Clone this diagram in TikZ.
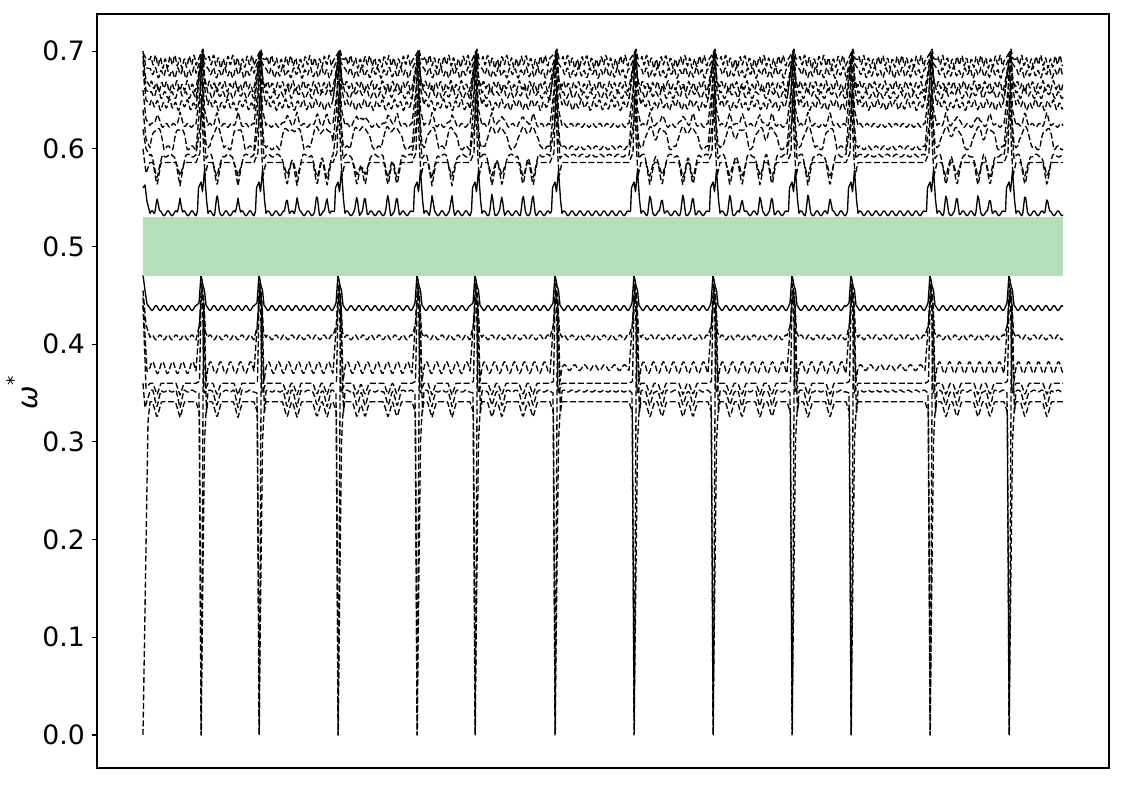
\documentclass[tikz,border=0pt]{standalone}
\usepackage{fontspec}
\setmainfont{DejaVu Sans}
\definecolor{bandgreen}{RGB}{179,223,187}
\tikzset{
  declare function={tri(\ta,\tb,\tc)=max(0,1-abs(\ta-\tb)/\tc);},
  curve/.style={line width=1pt, line join=round, black},
  dcurve/.style={curve, dash pattern=on 4.5pt off 2pt},
  ticklabel/.style={anchor=east, inner sep=0pt, font=\fontsize{20}{23}\selectfont},
  frame/.style={line width=0.8pt},
  tickmark/.style={line width=0.8pt},
}
\newcommand\TT[1]{(tri(\x,\pa,#1)+tri(\x,\pb,#1)+tri(\x,\pc,#1)+tri(\x,\pd,#1))}
\def\seglist{150/196/1/157/180/0/0, 208/254/1/217/238/0/0, 266/333/1/287/297/317/327, 345/412/1/357/365/388/397, 424/470/1/432/452/0/0, 482/550/1/492/502/523/533, 562/629/0/0/0/0/0, 641/708/1/650/662/683/693, 720/787/1/730/742/760/772, 799/846/1/808/830/0/0, 858/925/0/0/0/0/0, 937/1004/1/946/957/978/990}
% #1 style, #2 start path, #3 expression, #4 spike path
\newcommand\mycurve[4]{%
  \draw[#1] #2
    \foreach \xs/\xe/\k/\pa/\pb/\pc/\pd in \seglist {
      -- plot[domain=\xs:\xe, samples=70] (\x,{#3}) #4 }
    \foreach \xs/\xe/\k/\pa/\pb/\pc/\pd in {1016/1063/1/1025/1047/0/0} {
      -- plot[domain=\xs:\xe, samples=50] (\x,{#3}) };
}
\begin{document}
\begin{tikzpicture}[x=0.75pt,y=0.75pt]
\useasboundingbox (0,0) rectangle (1125,785);
\fill[white] (0,0) rectangle (1125,785);
\begin{scope}[y=732.75pt, yshift=37.5pt]
% upper group
\mycurve{curve}{(143,.560) -- (145,.563) -- (147,.546)}
  {0.534+0.0025*sin(45*(\x-\xs))+\k*0.018*\TT{2.5}}
  {-- ({\xe+1.5},.536) -- ({\xe+2.5},.560) -- ({\xe+5},.566) -- ({\xe+6.5},.556) -- ({\xe+8.5},.578) -- ({\xe+10.5},.548)}
\mycurve{dcurve}{(143,.60) -- (146,.575)}
  {0.586-\k*0.024*\TT{4}}
  {-- ({\xe+4},.596) -- ({\xe+5.5},.655) -- ({\xe+7.5},.600) -- ({\xe+9},.572)}
\mycurve{dcurve}{(143,.62) -- (146,.60)}
  {0.593+0.0015*sin(40*(\x-\xs))-\k*0.022*\TT{5.5}}
  {-- ({\xe+5},.630) -- ({\xe+6.5},.670) -- ({\xe+8},.620) -- ({\xe+10},.590)}
\mycurve{dcurve}{(143,.64) -- (146,.61)}
  {0.601+0.002*sin(45*(\x-\xs))+\k*0.02*min(1,\TT{7})*(2-min(1,\TT{7}))}
  {-- ({\xe+3.5},.640) -- ({\xe+5.5},.685) -- ({\xe+8},.630) -- ({\xe+10},.605)}
\mycurve{dcurve}{(143,.66) -- (146,.63)}
  {0.624+0.002*sin(50*(\x-\xs))+\k*0.012*\TT{6}*\TT{6}}
  {-- ({\xe+4},.660) -- ({\xe+6},.695) -- ({\xe+8.5},.640)}
\mycurve{dcurve}{(143,.68) -- (146,.65)}
  {0.645+0.004*sin(60*(\x-\xs))+0.002*sin(23*(\x-\xs))}
  {-- ({\xe+5},.690) -- ({\xe+7},.700) -- ({\xe+9},.660)}
\mycurve{dcurve}{(143,.69) -- (146,.66)}
  {0.655+0.0035*sin(52*(\x-\xs)+40)+\k*0.006*\TT{4}}
  {-- ({\xe+4.5},.685) -- ({\xe+6.5},.697) -- ({\xe+9},.670)}
\mycurve{dcurve}{(143,.695) -- (146,.67)}
  {0.664+0.004*sin(70*(\x-\xs))+0.002*sin(31*(\x-\xs))}
  {-- ({\xe+5},.690) -- ({\xe+7},.685) -- ({\xe+9},.668)}
\mycurve{dcurve}{(143,.70) -- (146,.683)}
  {0.678+0.004*sin(65*(\x-\xs)+90)+0.002*sin(27*(\x-\xs))}
  {-- ({\xe+4},.690) -- ({\xe+6},.700) -- ({\xe+8},.688)}
\mycurve{dcurve}{(143,.698) -- (146,.692)}
  {0.689+0.005*sin(75*(\x-\xs)+30)+0.002*sin(19*(\x-\xs))}
  {-- ({\xe+5},.698) -- ({\xe+7},.702) -- ({\xe+9},.692)}
% lower group
\mycurve{curve}{(143,.471) -- (145,.455) -- (147,.441)}
  {0.437+0.0025*sin(45*(\x-\xs)+180)}
  {-- ({\xe+3},.442) -- ({\xe+5},.471) -- ({\xe+7},.460) -- ({\xe+8.5},.455) -- ({\xe+10},.440)}
\mycurve{dcurve}{(143,.455) -- (146,.42)}
  {0.407+0.0025*sin(45*(\x-\xs))}
  {-- ({\xe+3.5},.420) -- ({\xe+5.5},.462) -- ({\xe+7.5},.450) -- ({\xe+9.5},.412)}
\mycurve{dcurve}{(143,.448) -- (147,.372)}
  {0.376+(0.003+\k*0.003)*sin(36*(\x-\xs))}
  {-- ({\xe+4},.430) -- ({\xe+6},.456) -- ({\xe+8},.440) -- ({\xe+10},.362)}
\mycurve{dcurve}{(143,.44) -- (146,.355)}
  {0.360-\k*0.012*\TT{4}}
  {-- ({\xe+3.5},.362) -- ({\xe+5},.440) -- ({\xe+6.5},.452) -- ({\xe+8},.350)}
\mycurve{dcurve}{(143,.36) -- (145,.335)}
  {0.352+0.001*sin(45*(\x-\xs))-\k*0.016*\TT{4}}
  {-- ({\xe+3},.350) -- ({\xe+5.3},0) -- ({\xe+7.5},.440) -- ({\xe+9},.380) -- ({\xe+10.5},.330)}
\mycurve{dcurve}{(143,0) -- (148,.32)}
  {0.341-\k*0.016*\TT{4.5}}
  {-- ({\xe+3.5},.330) -- ({\xe+5},0) -- ({\xe+8.5},.300) -- ({\xe+10},.330)}
% band
\fill[bandgreen] (143,.47) rectangle (1063,.53);
% ticks
\foreach \v/\lab in {0/0.0,0.1/0.1,0.2/0.2,0.3/0.3,0.4/0.4,0.5/0.5,0.6/0.6,0.7/0.7} {
  \draw[tickmark] (92,\v) -- (97,\v);
  \node[ticklabel] (t\lab) at (85,\v) {\lab};
}
\end{scope}
\draw[frame] (97,17) rectangle (1109,771);
\node[rotate=90, inner sep=0pt, font=\fontsize{21}{23}\selectfont] (ylab) at (22,392)
  {{\itshape ω}\raisebox{0.6em}{\fontsize{14}{14}\selectfont *}};
\end{tikzpicture}
\end{document}
